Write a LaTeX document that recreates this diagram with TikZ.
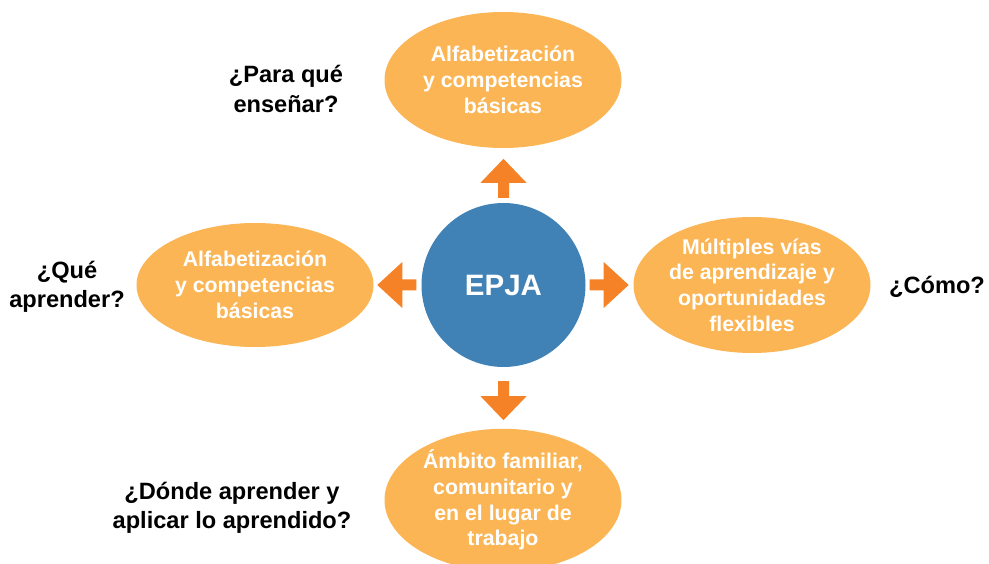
\documentclass[tikz,border=0pt]{standalone}
\usepackage{fontspec}
\setmainfont{Liberation Sans}
\usetikzlibrary{shapes.geometric}
\definecolor{ellfill}{RGB}{251,181,84}
\definecolor{arrfill}{RGB}{245,130,38}
\definecolor{circfill}{RGB}{65,130,182}
\tikzset{
  ell/.style={ellipse, fill=ellfill, inner sep=0pt, minimum width=237pt, text=white, align=center,
    font=\fontsize{21.3}{25.8}\selectfont\bfseries},
  quest/.style={text=black, align=center, font=\fontsize{23.6}{29.5}\selectfont\bfseries},
  blockarr/.style={fill=arrfill, draw=none},
}
\begin{document}
\begin{tikzpicture}[x=1pt,y=-1pt]
\useasboundingbox (0,0) rectangle (989,564);
\clip (0,0) rectangle (989,564);
% center circle
\node[circle, fill=circfill, minimum size=164pt, inner sep=0pt, text=white,
  font=\fontsize{29.5}{34}\selectfont\bfseries] (c) at (503.5,285) {EPJA};
% ellipses
\node[ell, minimum height=136pt] (top) at (503,80) {Alfabetización\\y competencias\\básicas};
\node[ell, minimum height=124pt] (left) at (255,285) {Alfabetización\\y competencias\\básicas};
\node[ell, minimum height=136pt] (right) at (752,285) {Múltiples vías\\de aprendizaje y\\oportunidades\\flexibles};
\node[ell, minimum height=136pt] (bottom) at (503,500) {Ámbito familiar,\\comunitario y\\en el lugar de\\trabajo};
% questions
\node[quest] (q1) at (286,89) {¿Para qué\\enseñar?};
\node[quest] (q2) at (67,287) {¿Qué\\aprender?};
\node[quest] (q3) at (937,287) {¿Cómo?};
\node[quest] (q4) at (232,508) {¿Dónde aprender y\\aplicar lo aprendido?};
% block arrows
\begin{scope}[shift={(c.north)}]
  \fill[blockarr] (0,-44) -- (23,-20) -- (5.5,-20) -- (5.5,-5) -- (-5.5,-5) -- (-5.5,-20) -- (-23,-20) -- cycle;
\end{scope}
\begin{scope}[shift={(c.south)}]
  \fill[blockarr] (0,53) -- (23,29) -- (5.5,29) -- (5.5,14) -- (-5.5,14) -- (-5.5,29) -- (-23,29) -- cycle;
\end{scope}
\begin{scope}[shift={(c.west)}]
  \fill[blockarr] (-44,0) -- (-19,-23) -- (-19,-5.5) -- (-5,-5.5) -- (-5,5.5) -- (-19,5.5) -- (-19,23) -- cycle;
\end{scope}
\begin{scope}[shift={(c.east)}]
  \fill[blockarr] (43,0) -- (18,-23) -- (18,-5.5) -- (4,-5.5) -- (4,5.5) -- (18,5.5) -- (18,23) -- cycle;
\end{scope}
\end{tikzpicture}
\end{document}
